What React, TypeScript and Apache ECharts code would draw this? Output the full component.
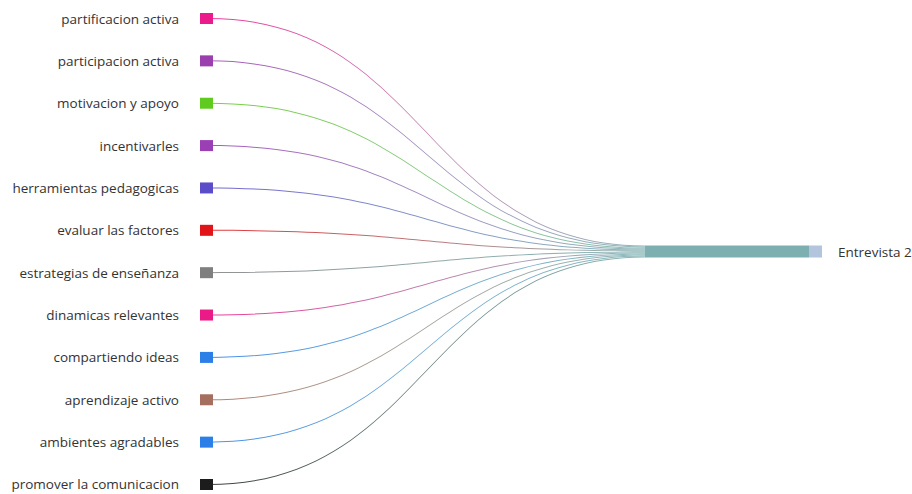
import React, { useEffect, useRef } from "react";
import * as echarts from "echarts";

const sourceNames = [
  "partificacion activa",
  "participacion activa",
  "motivacion y apoyo",
  "incentivarles",
  "herramientas pedagogicas",
  "evaluar las factores",
  "estrategias de enseñanza",
  "dinamicas relevantes",
  "compartiendo ideas",
  "aprendizaje activo",
  "ambientes agradables",
  "promover la comunicacion",
];
const sourceColors = [
  "#ec1b8c",
  "#9b3fae",
  "#5fcb1e",
  "#9a3fb4",
  "#5b4cc8",
  "#e01419",
  "#7f7f7f",
  "#ea1b87",
  "#2b7fe6",
  "#a56f5f",
  "#2b7fe6",
  "#1c1c1c",
];
const linkValues = [1, 1, 1, 1, 1, 1, 1, 1, 1, 1, 1, 1];
const targetName = "Entrevista 2";
const hubName = "Entrevista 2 flujo";
const hubColor = "#7dafb0";
const targetColor = "#b3c4dd";

export default function App() {
  const ref = useRef<HTMLDivElement>(null);
  useEffect(() => {
    if (!ref.current) return;
    const chart = echarts.init(ref.current, null, { renderer: "svg" });
    const total = linkValues.reduce((a, b) => a + b, 0);
    const nodes: any[] = sourceNames.map((name, i) => ({
      name,
      value: linkValues[i],
      itemStyle: {
        color: sourceColors[i],
        borderColor: sourceColors[i],
        borderWidth: 10,
        borderJoin: "miter",
      },
      label: { position: "left", distance: 21 },
    }));
    nodes.push({
      name: hubName,
      value: total,
      localX: 0.7131,
      localY: 0.48715,
      itemStyle: { color: hubColor },
      label: { show: false },
    });
    nodes.push({
      name: targetName,
      value: total,
      localY: 0.48715,
      itemStyle: { color: targetColor },
      label: { position: "right", distance: 16 },
    });
    const links: any[] = sourceNames.map((name, i) => ({
      source: name,
      target: hubName,
      value: linkValues[i],
    }));
    links.push({
      source: hubName,
      target: targetName,
      value: total,
      lineStyle: {
        opacity: 1,
        color: new echarts.graphic.LinearGradient(0, 0, 1, 0, [
          { offset: 0, color: hubColor },
          { offset: 0.9415, color: hubColor },
          { offset: 0.9415, color: targetColor },
          { offset: 1, color: targetColor },
        ]),
      },
    });
    chart.setOption({
      animation: false,
      tooltip: { show: false },
      series: [
        {
          type: "sankey",
          left: 205,
          top: 18,
          width: 617,
          height: 467,
          nodeWidth: 3,
          nodeGap: 41.36,
          layoutIterations: 0,
          draggable: false,
          emphasis: { disabled: true },
          label: {
            show: true,
            color: "#333333",
            fontSize: 13.5,
            fontFamily: "Open Sans",
          },
          lineStyle: { color: "gradient", opacity: 0.85, curveness: 0.5 },
          data: nodes,
          links,
        },
      ],
    });
    return () => chart.dispose();
  }, []);
  return (
    <div
      ref={ref}
      style={{ position: "absolute", left: 0, top: 0, width: 912, height: 494, background: "#fff" }}
    />
  );
}
